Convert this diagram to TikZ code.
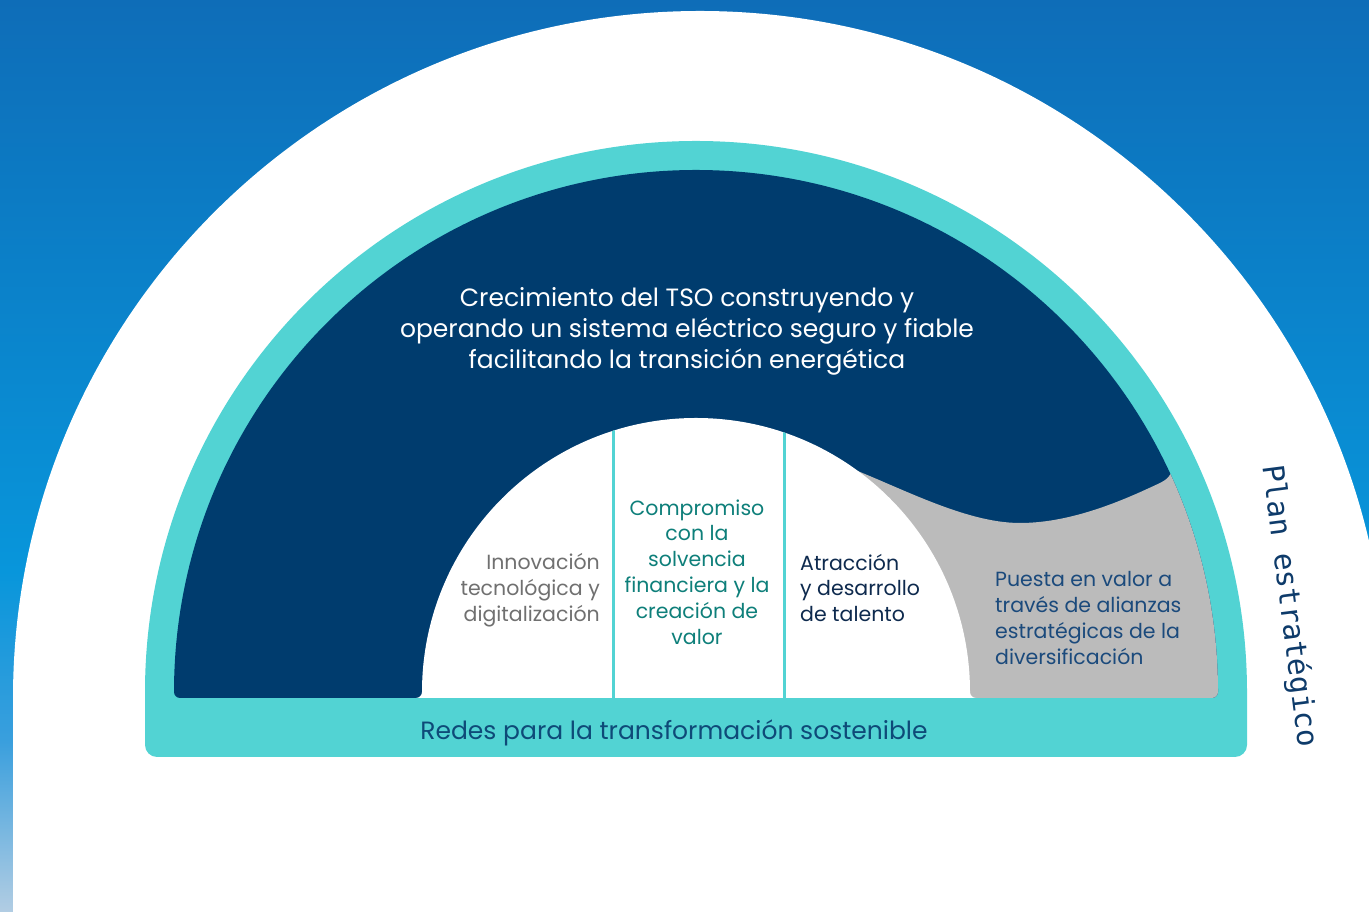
\documentclass[tikz,border=0pt]{standalone}
\usepackage{fontspec}
\setmainfont{Poppins}
\newfontfamily\planfont{DejaVu Sans Mono}
\definecolor{bgtop}{HTML}{0E6DB8}
\definecolor{bgmid}{HTML}{0896DB}
\definecolor{bglow}{HTML}{3A9FDD}
\definecolor{bgbot}{HTML}{B2CDE3}
\definecolor{arcnavy}{HTML}{003C6E}
\definecolor{arcteal}{HTML}{52D3D3}
\definecolor{arcgray}{HTML}{BBBBBB}
\definecolor{txtgray}{HTML}{707070}
\definecolor{txtteal}{HTML}{0E7F7A}
\definecolor{txtdark}{HTML}{0E2A4E}
\definecolor{txtblue}{HTML}{1B4A7C}
\definecolor{txtredes}{HTML}{0E4A78}
\definecolor{txtplan}{HTML}{0E3B6A}
\begin{document}
\begin{tikzpicture}[x=1pt,y=1pt,
  lbl/.style={inner sep=0pt},
  small/.style={lbl,font=\fontsize{20.5}{25.8}\selectfont},
  divider/.style={draw=arcteal,line width=3pt}]
\useasboundingbox (0,0) rectangle (1369,912);
\clip (0,0) rectangle (1369,912);
% background
\shade[top color=bgtop,bottom color=bgmid] (0,340) rectangle (1369,912);
\shade[top color=bgmid,bottom color=bglow] (0,170) rectangle (1369,340.5);
\shade[top color=bglow,bottom color=bgbot] (0,0) rectangle (1369,170.5);
% white arch
\fill[white] (13,-20) -- (13,214) arc[start angle=180,end angle=0,radius=687] -- (1387,-20) -- cycle;
% teal arch
\fill[arcteal] (157,155) arc[start angle=270,end angle=180,radius=12] -- (145,220)
  arc[start angle=180,end angle=0,radius=551] -- (1247,167)
  arc[start angle=0,end angle=-90,radius=12] -- cycle;
% navy arch
\fill[arcnavy] (180,214) arc[start angle=270,end angle=180,radius=6]
  arc[start angle=180,end angle=0,radius=522]
  arc[start angle=0,end angle=-90,radius=6] -- cycle;
% gray part
\begin{scope}
  \clip (180,214) arc[start angle=270,end angle=180,radius=6]
    arc[start angle=180,end angle=0,radius=522]
    arc[start angle=0,end angle=-90,radius=6] -- cycle;
  \fill[arcgray] (845,300) -- (845,446) .. controls (900,425) and (965,389) .. (1020,389)
    .. controls (1075,389) and (1130,415) .. (1160,429)
    .. controls (1170,434) and (1174,440) .. (1170,450) -- (1300,480) -- (1300,150) -- (845,150) -- cycle;
\end{scope}
% inner white
\fill[white] (416,214) arc[start angle=-90,end angle=0,radius=6]
  arc[start angle=180,end angle=0,radius=274]
  arc[start angle=180,end angle=270,radius=6] -- cycle;
\begin{scope}
  \clip (422,214) rectangle (970,220) (422,220) arc[start angle=180,end angle=0,radius=274] -- cycle;
  \draw[divider] (613.5,210) -- (613.5,500);
  \draw[divider] (784,210) -- (784,500);
\end{scope}
% texts
\node[lbl,font=\fontsize{25}{31}\selectfont,text=white,align=center] (main) at (687,581)
  {Crecimiento del TSO construyendo y\\operando un sistema eléctrico seguro y fiable\\facilitando la transición energética};
\node[small,text=txtgray,align=right,anchor=east] (inno) at (600,322)
  {Innovación\\tecnológica y\\digitalización};
\node[small,text=txtteal,align=center] (comp) at (697,340)
  {Compromiso\\con la\\solvencia\\financiera y la\\creación de\\valor};
\node[small,text=txtdark,align=left,anchor=west] (atra) at (800,324)
  {Atracción\\y desarrollo\\de talento};
\node[small,text=txtblue,align=left,anchor=west] (pues) at (995,294)
  {Puesta en valor a\\través de alianzas\\estratégicas de la\\diversificación};
\node[lbl,font=\fontsize{25}{28}\selectfont,text=txtredes] (redes) at (674,179)
  {Redes para la transformación sostenible};
\node[lbl,font=\planfont\fontsize{29.5}{32}\selectfont,text=txtplan,rotate=-82.7] (plan) at (1289,306)
  {Plan estratégico};
\end{tikzpicture}
\end{document}
